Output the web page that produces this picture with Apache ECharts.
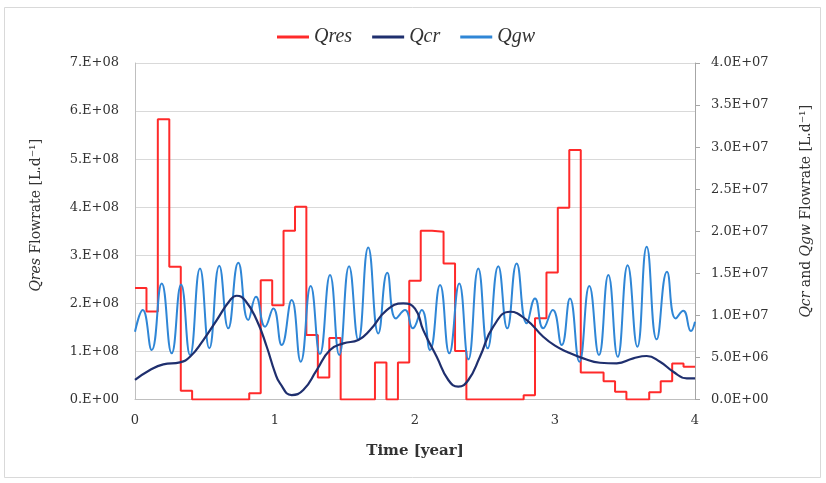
<!DOCTYPE html>
<html>
<head>
<meta charset="utf-8">
<script src="https://cdn.jsdelivr.net/npm/echarts@6/dist/echarts.min.js"></script>
<style>
  html, body { margin: 0; padding: 0; background: #fff; }
  #chart { width: 826px; height: 483px; }
</style>
</head>
<body>
<div id="chart"></div>
<script>
// Qres: monthly-ish steps (start time of each step, last entry = end at t=4), values in L/d
const qresTime = [0, 0.082, 0.163, 0.245, 0.327, 0.408, 0.49, 0.571, 0.653, 0.735,
  0.816, 0.898, 0.98, 1.061, 1.143, 1.224, 1.306, 1.388, 1.469, 1.551,
  1.633, 1.714, 1.796, 1.878, 1.959, 2.041, 2.122, 2.204, 2.286, 2.367,
  2.449, 2.531, 2.612, 2.694, 2.776, 2.857, 2.939, 3.02, 3.102, 3.184,
  3.265, 3.347, 3.429, 3.51, 3.592, 3.673, 3.755, 3.837, 3.918, 4.0]
const qresValue = [2.32e8, 1.83e8, 5.83e8, 2.76e8, 0.18e8, 0, 0, 0, 0, 0,
  0.13e8, 2.48e8, 1.96e8, 3.51e8, 4.01e8, 1.34e8, 0.46e8, 1.28e8, 0, 0,
  0, 0.77e8, 0, 0.77e8, 2.47e8, 3.51e8, 3.49e8, 2.83e8, 1.01e8, 0,
  0, 0, 0, 0, 0.09e8, 1.69e8, 2.64e8, 3.99e8, 5.19e8, 0.56e8,
  0.56e8, 0.38e8, 0.16e8, 0, 0, 0.15e8, 0.38e8, 0.75e8, 0.68e8, 0.68e8]

// Qcr: slow curve on right axis
const qcrTime = [0, 0.107, 0.202, 0.321, 0.393, 0.488, 0.584, 0.679, 0.726, 0.786,
  0.869, 0.941, 1.0, 1.036, 1.119, 1.202, 1.298, 1.393, 1.488, 1.595,
  1.679, 1.798, 1.916, 2.0, 2.059, 2.155, 2.238, 2.309, 2.381, 2.464,
  2.559, 2.679, 2.798, 2.916, 3.0, 3.084, 3.202, 3.321, 3.441, 3.559,
  3.655, 3.75, 3.845, 3.941, 4.0]
const qcrValue = [2.32e6, 3.5e6, 4.18e6, 4.42e6, 5.08e6, 7.07e6, 9.44e6, 11.8e6, 12.33e6, 11.8e6,
  9.44e6, 6.27e6, 3.2e6, 1.92e6, 0.53e6, 1.13e6, 3.5e6, 5.88e6, 6.67e6, 7.07e6,
  8.25e6, 10.63e6, 11.42e6, 10.8e6, 8.25e6, 5.08e6, 2.32e6, 1.52e6, 2.32e6, 5.08e6,
  8.65e6, 10.43e6, 9.44e6, 7.46e6, 6.4e6, 5.68e6, 4.89e6, 4.37e6, 4.3e6, 4.89e6,
  5.17e6, 4.49e6, 3.3e6, 2.52e6, 2.52e6]

// Qgw: oscillating curve on right axis (peaks and troughs)
const qgwTime = [0, 0.055, 0.119, 0.191, 0.262, 0.329, 0.393, 0.464, 0.531, 0.602,
  0.666, 0.738, 0.809, 0.864, 0.929, 0.988, 1.048, 1.119, 1.184, 1.255,
  1.321, 1.393, 1.459, 1.529, 1.595, 1.666, 1.738, 1.802, 1.864, 1.929,
  1.984, 2.048, 2.107, 2.179, 2.245, 2.316, 2.381, 2.452, 2.519, 2.595,
  2.659, 2.726, 2.798, 2.857, 2.916, 2.984, 3.048, 3.107, 3.174, 3.245,
  3.314, 3.381, 3.448, 3.519, 3.588, 3.655, 3.726, 3.8, 3.862, 3.916,
  3.971, 4.0]
const qgwValue = [8.05e6, 10.63e6, 5.88e6, 13.8e6, 5.49e6, 13.68e6, 5.28e6, 15.58e6, 6.08e6, 15.9e6,
  8.46e6, 16.25e6, 9.44e6, 12.2e6, 8.65e6, 10.83e6, 6.47e6, 11.82e6, 4.49e6, 13.48e6,
  5.4e6, 14.79e6, 5.28e6, 15.85e6, 7.07e6, 18.08e6, 7.86e6, 15.06e6, 9.64e6, 10.63e6,
  8.46e6, 10.63e6, 5.88e6, 13.6e6, 5.49e6, 13.8e6, 4.77e6, 15.58e6, 6.08e6, 15.85e6,
  8.46e6, 16.18e6, 9.05e6, 12.02e6, 8.46e6, 10.63e6, 6.47e6, 12.02e6, 4.49e6, 13.48e6,
  5.28e6, 14.79e6, 5.08e6, 15.97e6, 6.27e6, 18.15e6, 7.15e6, 15.18e6, 9.64e6, 10.55e6,
  8.14e6, 9.24e6]

const leftTickLabels = ['0.E+00', '1.E+08', '2.E+08', '3.E+08', '4.E+08', '5.E+08', '6.E+08', '7.E+08']
const rightTickLabels = ['0.0E+00', '5.0E+06', '1.0E+07', '1.5E+07', '2.0E+07', '2.5E+07', '3.0E+07', '3.5E+07', '4.0E+07']
const xTickLabels = ['0', '1', '2', '3', '4']

const zip = (xs, ys) => xs.map((x, i) => [x, ys[i]])

const serif = 'DejaVu Serif'
const textColor = '#333333'

const chart = echarts.init(document.getElementById('chart'))

const option = {
  backgroundColor: '#ffffff',
  animation: false,
  graphic: [
    {
      type: 'rect',
      silent: true,
      z: -10,
      shape: { x: 4.5, y: 7.5, width: 816, height: 470 },
      style: { fill: 'none', stroke: '#d9d9d9', lineWidth: 1 },
    },
  ],
  legend: {
    top: 22,
    left: 272,
    icon: 'rect',
    itemWidth: 32,
    itemHeight: 3,
    itemGap: 20,
    textStyle: { fontFamily: 'Liberation Serif', fontStyle: 'italic', fontSize: 20, color: textColor },
    data: ['Qres', 'Qcr', 'Qgw'],
  },
  grid: { left: 135, right: 131, top: 63, bottom: 83.5 },
  xAxis: {
    type: 'value',
    min: 0,
    max: 4,
    interval: 1,
    name: 'Time [year]',
    nameLocation: 'middle',
    nameGap: 44,
    nameTextStyle: { fontFamily: serif, fontWeight: 'bold', fontSize: 15, color: textColor },
    axisLine: { show: true, lineStyle: { color: '#bfbfbf', width: 1 } },
    axisTick: { show: false },
    splitLine: { show: false },
    axisLabel: {
      margin: 15,
      fontFamily: serif,
      fontSize: 13,
      color: (v) => (v === 4 ? '#44546a' : textColor),
      formatter: (v) => xTickLabels[Math.round(v)],
    },
  },
  yAxis: [
    {
      type: 'value',
      min: 0,
      max: 7e8,
      interval: 1e8,
      position: 'left',
      name: '{i|Qres} Flowrate [L.d⁻¹]',
      nameLocation: 'middle',
      nameRotate: 90,
      nameGap: 92,
      nameTextStyle: {
        fontFamily: serif,
        fontSize: 14,
        color: textColor,
        padding: [0, 0, 0, 32],
        rich: { i: { fontFamily: serif, fontSize: 14, fontStyle: 'italic', color: textColor } },
      },
      axisLine: { show: true, lineStyle: { color: '#bfbfbf', width: 1 } },
      axisTick: { show: false },
      splitLine: { show: true, lineStyle: { color: '#d9d9d9', width: 1 } },
      axisLabel: {
        margin: 16,
        fontFamily: serif,
        fontSize: 13,
        color: textColor,
        formatter: (v) => leftTickLabels[Math.round(v / 1e8)],
      },
    },
    {
      type: 'value',
      min: 0,
      max: 4e7,
      interval: 5e6,
      position: 'right',
      name: '{i|Qcr} and {i|Qgw} Flowrate [L.d⁻¹]',
      nameLocation: 'middle',
      nameRotate: 90,
      nameGap: 104,
      nameTextStyle: {
        fontFamily: serif,
        fontSize: 14,
        color: textColor,
        padding: [0, 0, 0, 40],
        rich: { i: { fontFamily: serif, fontSize: 14, fontStyle: 'italic', color: textColor } },
      },
      axisLine: { show: true, lineStyle: { color: '#a6a6a6', width: 1 } },
      axisTick: { show: true, inside: false, length: 5, lineStyle: { color: '#a6a6a6' } },
      splitLine: { show: false },
      axisLabel: {
        margin: 16,
        fontFamily: serif,
        fontSize: 13,
        color: textColor,
        formatter: (v) => rightTickLabels[Math.round(v / 5e6)],
      },
    },
  ],
  series: [
    {
      name: 'Qres',
      type: 'line',
      yAxisIndex: 0,
      step: 'end',
      symbol: 'none',
      lineStyle: { color: '#ff2a2a', width: 2 },
      itemStyle: { color: '#ff2a2a' },
      data: zip(qresTime, qresValue),
      z: 3,
    },
    {
      name: 'Qcr',
      type: 'line',
      yAxisIndex: 1,
      smooth: 0.5,
      symbol: 'none',
      lineStyle: { color: '#1f2f6e', width: 2.2 },
      itemStyle: { color: '#1f2f6e' },
      data: zip(qcrTime, qcrValue),
      z: 5,
    },
    {
      name: 'Qgw',
      type: 'line',
      yAxisIndex: 1,
      smooth: 0.5,
      symbol: 'none',
      lineStyle: { color: '#2f86d6', width: 2 },
      itemStyle: { color: '#2f86d6' },
      data: zip(qgwTime, qgwValue),
      z: 4,
    },
  ],
}

chart.setOption(option)
</script>
</body>
</html>
